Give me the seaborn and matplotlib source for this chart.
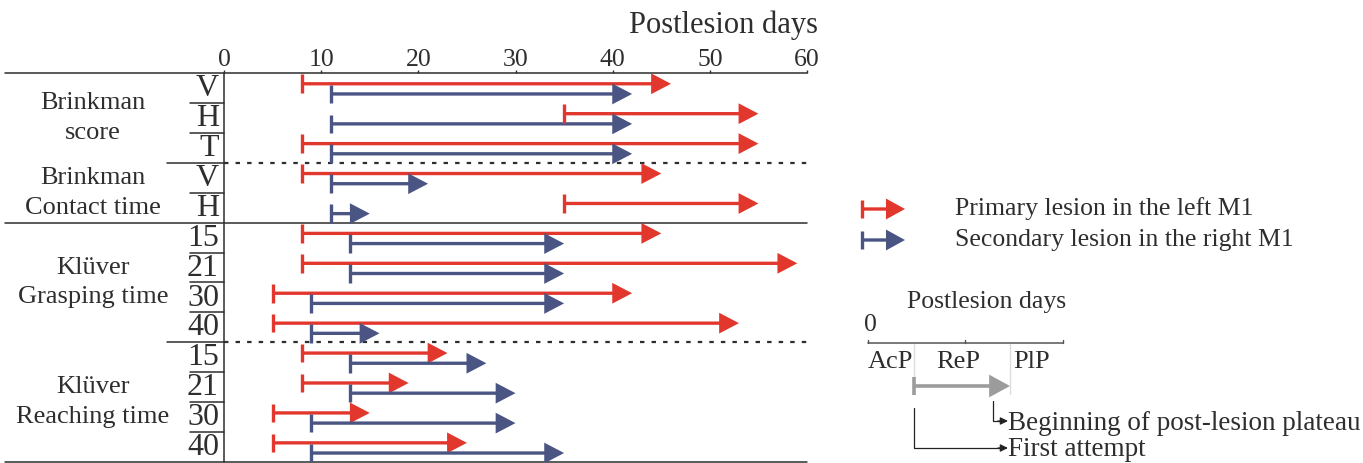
import matplotlib
matplotlib.use("Agg")
import matplotlib.pyplot as plt
from matplotlib.patches import FancyArrowPatch, ArrowStyle
import pandas as pd
import seaborn as sns

# ---- data: recovery periods (postlesion days) per test / item ----
row_labels = ["V", "H", "T", "V", "H", "15", "21", "30", "40", "15", "21", "30", "40"]
primary_start = [8, 35, 8, 8, 35, 8, 8, 5, 5, 8, 8, 5, 5]
primary_end = [46, 55, 55, 45, 55, 45, 59, 42, 53, 23, 19, 15, 25]
secondary_start = [11, 11, 11, 11, 11, 13, 13, 9, 9, 13, 13, 9, 9]
secondary_end = [42, 42, 42, 21, 15, 35, 35, 35, 16, 27, 30, 30, 35]

group_names = [("Brinkman", "score"), ("Brinkman", "Contact time"),
               ("Klüver", "Grasping time"), ("Klüver", "Reaching time")]
group_sizes = [3, 2, 4, 4]
group_rule_styles = ["solid", "dotted", "solid", "dotted", "solid"]
day_ticks = [0, 10, 20, 30, 40, 50, 60]
series_names = ["Primary lesion in the left M1", "Secondary lesion in the right M1"]

RED = "#E2372D"
BLUE = "#4A5584"
INK = "#2E2E2E"
GRAY = "#9C9C9C"

sns.set_theme(style="white")
plt.rcParams["font.family"] = ["Liberation Serif", "DejaVu Serif"]
plt.rcParams["text.color"] = INK

W, H, DPI = 1363, 463, 100
fig = plt.figure(figsize=(W / DPI, H / DPI), dpi=DPI, facecolor="white")

n_rows = len(row_labels)
ax_left, ax_right, ax_top, ax_bottom = 224, 807, 73, 462
ax = fig.add_axes([ax_left / W, 1 - ax_bottom / H,
                   (ax_right - ax_left) / W, (ax_bottom - ax_top) / H])
ax.set_xlim(day_ticks[0], day_ticks[-1])
ax.set_ylim(n_rows, 0)
ax.set_facecolor("white")

# long-format table of all periods
rows = []
for i in range(n_rows):
    rows.append(dict(row=i, y=i + 0.36, start=primary_start[i], end=primary_end[i], lesion=series_names[0]))
    rows.append(dict(row=i, y=i + 0.70, start=secondary_start[i], end=secondary_end[i], lesion=series_names[1]))
df = pd.DataFrame(rows)
palette = {series_names[0]: RED, series_names[1]: BLUE}

# shafts and arrow heads
head = ArrowStyle("-|>", head_length=10.5, head_width=5.5)
for _, r in df.iterrows():
    arr = FancyArrowPatch((r["start"], r["y"]), (r["end"], r["y"]), arrowstyle=head,
                          mutation_scale=1, lw=2.4, color=palette[r["lesion"]],
                          shrinkA=0, shrinkB=0, joinstyle="miter", capstyle="butt", zorder=3)
    ax.add_patch(arr)

# start ticks of each period
sns.scatterplot(data=df, x="start", y="y", hue="lesion", palette=palette, marker="|",
                s=180, linewidth=2.4, legend=False, ax=ax, zorder=4)
ax.set_xlabel("")
ax.set_ylabel("")

# axes styling: only the zero line on the left, day ticks on top
for side in ["top", "right", "bottom"]:
    ax.spines[side].set_visible(False)
ax.spines["left"].set_color(INK)
ax.spines["left"].set_linewidth(1.1)
ax.xaxis.tick_top()
ax.set_xticks(day_ticks)
ax.set_yticks([])
ax.tick_params(axis="x", top=True, direction="out", length=2.5, width=1, color=INK,
               labelsize=18.5, pad=-1, labelcolor=INK)

ytr = ax.get_yaxis_transform()
px = lambda p: (p - ax_left) / (ax_right - ax_left)   # figure pixel -> axes fraction

# group separators
bounds = [0]
for g in group_sizes:
    bounds.append(bounds[-1] + g)
for b, style in zip(bounds, group_rule_styles):
    if style == "solid":
        ax.plot([px(5), 1], [b, b], color=INK, lw=1.1, transform=ytr, clip_on=False, zorder=2)
    else:
        ax.plot([px(167), 0], [b, b], color=INK, lw=1.1, transform=ytr, clip_on=False, zorder=2)
        ax.plot([0, 1], [b, b], color=INK, lw=1.6, ls=(0, (2, 3.2)), transform=ytr,
                clip_on=False, zorder=2)

# item separators inside each group
for g0, g1 in zip(bounds[:-1], bounds[1:]):
    for b in range(g0 + 1, g1):
        ax.plot([px(190), 0], [b, b], color=INK, lw=1.1, transform=ytr, clip_on=False)

# item labels
for i, lab in enumerate(row_labels):
    ax.text(px(219), i + 0.52, lab, transform=ytr, ha="right", va="center",
            fontsize=23, color=INK)

# group labels
for (l1, l2), g0, g1 in zip(group_names, bounds[:-1], bounds[1:]):
    mid = (g0 + g1) / 2
    ax.text(px(93), mid - 0.5, l1, transform=ytr, ha="center", va="center", fontsize=19)
    ax.text(px(93), mid + 0.5, l2, transform=ytr, ha="center", va="center", fontsize=19)

# ---- overlay in pixel units: axis title, legend and period schematic ----
ov = fig.add_axes([0, 0, 1, 1], zorder=5)
ov.set_xlim(0, W)
ov.set_ylim(H, 0)
ov.axis("off")

ov.text(818, 33, "Postlesion days", ha="right", va="baseline", fontsize=22)


def period_arrow(x0, x1, y, color, lw=2.4, hl=10.5, hw=5.5, tick=9):
    ov.add_patch(FancyArrowPatch((x0, y), (x1, y),
                                 arrowstyle=ArrowStyle("-|>", head_length=hl, head_width=hw),
                                 mutation_scale=1, lw=lw, color=color, shrinkA=0, shrinkB=0,
                                 joinstyle="miter", capstyle="butt"))
    ov.plot([x0, x0], [y - tick, y + tick], color=color, lw=lw, solid_capstyle="butt")


# legend
for name, yy in zip(series_names, [209, 240]):
    period_arrow(862, 905, yy, palette[name], hl=10, hw=5.5)
    ov.text(955, yy, name, ha="left", va="center", fontsize=18.5)

# schematic of recovery phases
ov.text(907, 302, "Postlesion days", ha="left", va="center", fontsize=18.5)
ov.text(870, 325, "0", ha="center", va="center", fontsize=18.5)
ov.plot([868, 1063], [343, 343], color="#555555", lw=1.1)
for tx in [868, 965, 1063]:
    ov.plot([tx, tx], [340, 343], color="#555555", lw=1)
for vx in [914, 1010]:
    ov.plot([vx, vx], [344, 394], color="#DDDDDD", lw=1)
for lab, cx in zip(["AcP", "ReP", "PlP"], [890, 958, 1032]):
    ov.text(cx, 362, lab, ha="center", va="center", fontsize=19)
period_arrow(914, 1010, 386, GRAY, lw=2.6, hl=11, hw=6, tick=9)

# callouts
ov.plot([993, 993, 1000], [401, 421, 421], color="#222222", lw=0.9)
ov.add_patch(FancyArrowPatch((998, 421), (1008, 421), arrowstyle=ArrowStyle("-|>", head_length=4.5, head_width=2.2),
                             mutation_scale=1, lw=0.9, color="#222222", shrinkA=0, shrinkB=0))
ov.text(1008, 424, "Beginning of post-lesion plateau", ha="left", va="center", fontsize=19.5)
ov.plot([914, 914, 1000], [408, 448, 448], color="#222222", lw=0.9)
ov.add_patch(FancyArrowPatch((998, 448), (1008, 448), arrowstyle=ArrowStyle("-|>", head_length=4.5, head_width=2.2),
                             mutation_scale=1, lw=0.9, color="#222222", shrinkA=0, shrinkB=0))
ov.text(1008, 450, "First attempt", ha="left", va="center", fontsize=19.5)

fig.savefig("out.png", dpi=DPI, facecolor="white")
